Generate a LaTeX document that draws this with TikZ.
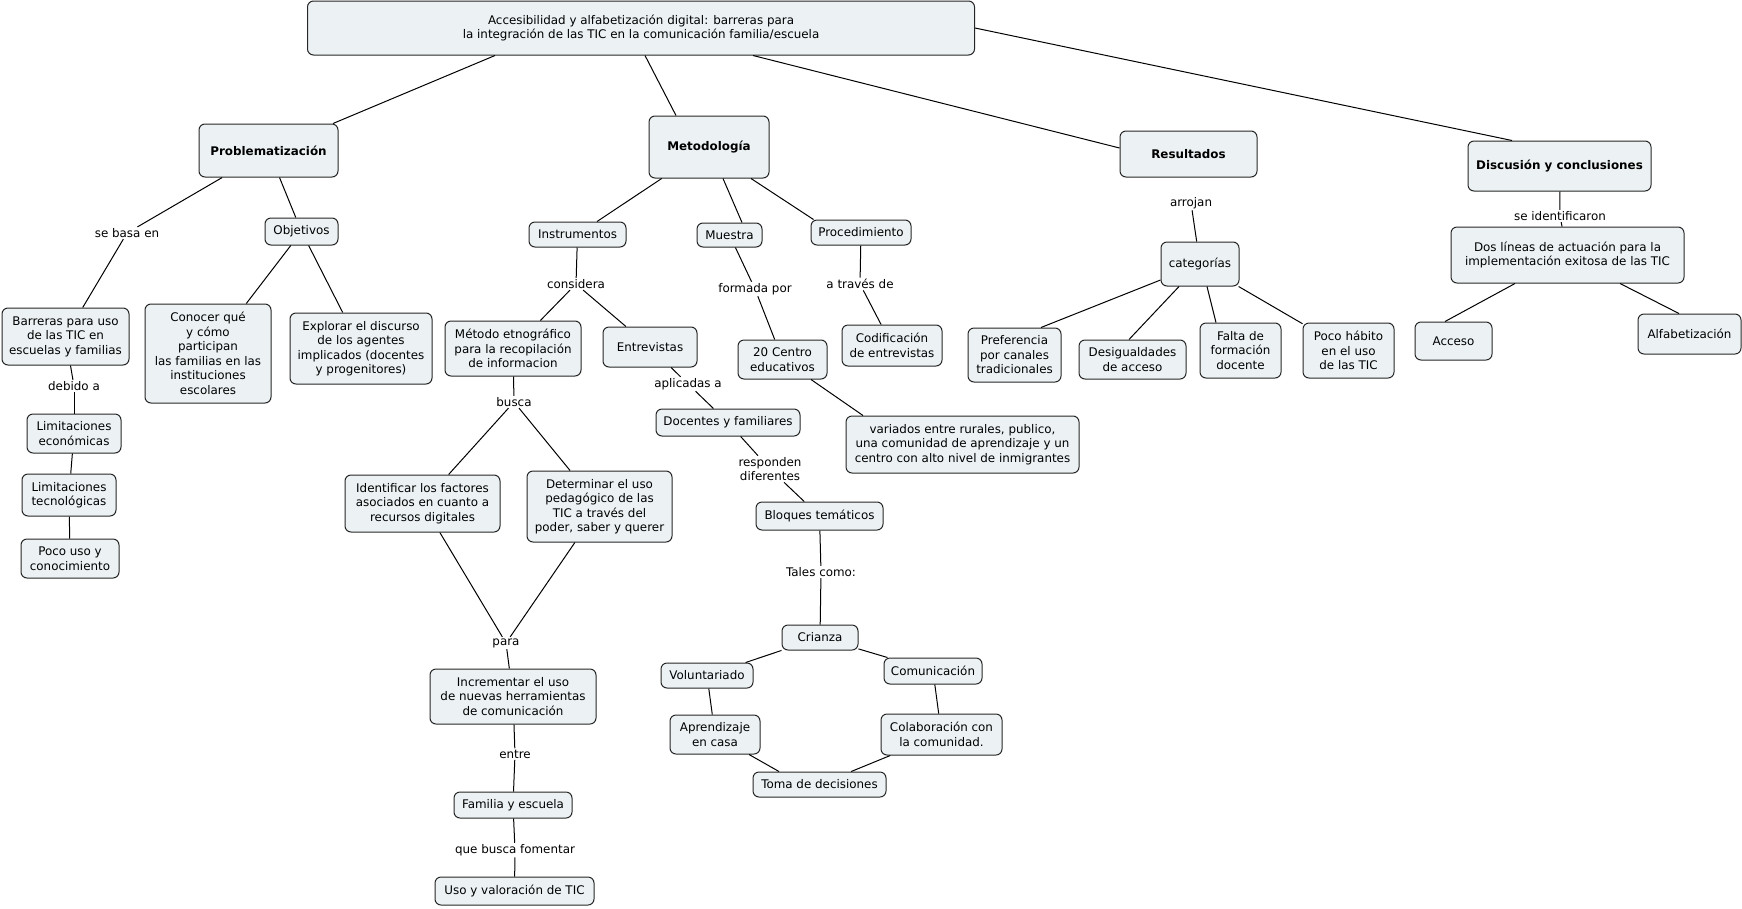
\documentclass[tikz,border=0pt]{standalone}
\usepackage{fontspec}
\setmainfont{DejaVu Sans}
\definecolor{fondo}{RGB}{236,242,244}
\begin{document}
\begin{tikzpicture}[x=1pt,y=-1pt,line width=1pt,
        every node/.style={font=\fontsize{11.9}{14.5}\selectfont},
        concepto/.style={draw=black!85,fill=fondo,rounded corners=6pt,align=center,inner sep=1pt},
        principal/.style={concepto,font=\fontsize{11.9}{14.5}\selectfont\bfseries},
        enlace/.style={align=center,inner sep=1pt}]
        \fill[white] (0,0) rectangle (1742,908);
        \useasboundingbox (0,0) rectangle (1742,908);
        \node[concepto,minimum width=667pt,minimum height=54pt] (titulo) at (641,28) {Accesibilidad y alfabetización digital: barreras para\\la integración de las TIC en la comunicación familia/escuela};
        \node[principal,minimum width=139pt,minimum height=53pt] (problema) at (268.5,150.5) {Problematización};
        \node[principal,minimum width=120pt,minimum height=62pt] (metodologia) at (709,147) {Metodología};
        \node[principal,minimum width=137pt,minimum height=46pt] (resultados) at (1188.5,154) {Resultados};
        \node[principal,minimum width=183pt,minimum height=50pt] (discusion) at (1559.5,166) {Discusión y conclusiones};
        \node[concepto,minimum width=73pt,minimum height=27pt] (objetivos) at (301.5,231.5) {Objetivos};
        \node[concepto,minimum width=97pt,minimum height=25pt] (instrumentos) at (577.5,234.5) {Instrumentos};
        \node[concepto,minimum width=65pt,minimum height=24pt] (muestra) at (729.5,235) {Muestra};
        \node[concepto,minimum width=100pt,minimum height=25pt] (procedimiento) at (861,232.5) {Procedimiento};
        \node[concepto,minimum width=78pt,minimum height=44pt] (categorias) at (1200,264) {categorías};
        \node[concepto,minimum width=233pt,minimum height=56pt] (doslineas) at (1567.5,255) {Dos líneas de actuación para la\\implementación exitosa de las TIC};
        \node[concepto,minimum width=127pt,minimum height=57pt] (barreras) at (65.5,336.5) {Barreras para uso\\de las TIC en\\escuelas y familias};
        \node[concepto,minimum width=126pt,minimum height=99pt] (conocer) at (208,353.5) {Conocer qué\\y cómo\\participan\\las familias en las\\instituciones\\escolares};
        \node[concepto,minimum width=142pt,minimum height=71pt] (explorar) at (361,348.5) {Explorar el discurso\\de los agentes\\implicados (docentes\\y progenitores)};
        \node[concepto,minimum width=136pt,minimum height=55pt] (metodo) at (513,348.5) {Método etnográfico\\para la recopilación\\de informacion};
        \node[concepto,minimum width=94pt,minimum height=40pt] (entrevistas) at (650,347) {Entrevistas};
        \node[concepto,minimum width=89pt,minimum height=39pt] (centros) at (782.5,359.5) {20 Centro\\educativos};
        \node[concepto,minimum width=100pt,minimum height=41pt] (codificacion) at (892,345.5) {Codificación\\de entrevistas};
        \node[concepto,minimum width=93pt,minimum height=54pt] (preferencia) at (1014.5,355) {Preferencia\\por canales\\tradicionales};
        \node[concepto,minimum width=107pt,minimum height=39pt] (desigualdades) at (1132.5,359.5) {Desigualdades\\de acceso};
        \node[concepto,minimum width=81pt,minimum height=55pt] (falta) at (1240.5,350.5) {Falta de\\formación\\docente};
        \node[concepto,minimum width=91pt,minimum height=55pt] (habito) at (1348.5,350.5) {Poco hábito\\en el uso\\de las TIC};
        \node[concepto,minimum width=77pt,minimum height=38pt] (acceso) at (1453.5,341) {Acceso};
        \node[concepto,minimum width=103pt,minimum height=40pt] (alfab) at (1689.5,334) {Alfabetización};
        \node[concepto,minimum width=94pt,minimum height=39pt] (limeco) at (74,433.5) {Limitaciones\\económicas};
        \node[concepto,minimum width=144pt,minimum height=27pt] (docentes) at (728,422.5) {Docentes y familiares};
        \node[concepto,minimum width=233pt,minimum height=57pt] (variados) at (962.5,444.5) {variados entre rurales, publico,\\una comunidad de aprendizaje y un\\centro con alto nivel de inmigrantes};
        \node[concepto,minimum width=94pt,minimum height=42pt] (limtec) at (69,495) {Limitaciones\\tecnológicas};
        \node[concepto,minimum width=98pt,minimum height=39pt] (pocouso) at (70,558.5) {Poco uso y\\conocimiento};
        \node[concepto,minimum width=155pt,minimum height=57pt] (identificar) at (422.5,503.5) {Identificar los factores\\asociados en cuanto a\\recursos digitales};
        \node[concepto,minimum width=145pt,minimum height=71pt] (determinar) at (599.5,506.5) {Determinar el uso\\pedagógico de las\\TIC a través del\\poder, saber y querer};
        \node[concepto,minimum width=127pt,minimum height=28pt] (bloques) at (819.5,516) {Bloques temáticos};
        \node[concepto,minimum width=76pt,minimum height=25pt] (crianza) at (820,637.5) {Crianza};
        \node[concepto,minimum width=92pt,minimum height=25pt] (voluntariado) at (707,675.5) {Voluntariado};
        \node[concepto,minimum width=98pt,minimum height=26pt] (comunicacion) at (933,671) {Comunicación};
        \node[concepto,minimum width=166pt,minimum height=55pt] (incrementar) at (513,696.5) {Incrementar el uso\\de nuevas herramientas\\de comunicación};
        \node[concepto,minimum width=90pt,minimum height=39pt] (aprendizaje) at (715,734.5) {Aprendizaje\\en casa};
        \node[concepto,minimum width=121pt,minimum height=41pt] (colaboracion) at (941.5,734.5) {Colaboración con\\la comunidad.};
        \node[concepto,minimum width=133pt,minimum height=25pt] (toma) at (819.5,784.5) {Toma de decisiones};
        \node[concepto,minimum width=118pt,minimum height=26pt] (familia) at (513,805) {Familia y escuela};
        \node[concepto,minimum width=159pt,minimum height=28pt] (usotic) at (514.5,891) {Uso y valoración de TIC};
        \node[enlace] (sebasa) at (127,233) {se basa en};
        \node[enlace] (debido) at (74,386) {debido a};
        \node[enlace] (considera) at (576,284) {considera};
        \node[enlace] (formada) at (755,289) {formada por};
        \node[enlace] (atraves) at (860,284) {a través de};
        \node[enlace] (busca) at (514,402) {busca};
        \node[enlace] (aplicadas) at (688,384) {aplicadas a};
        \node[enlace] (responden) at (770,469) {responden\\diferentes};
        \node[enlace] (tales) at (821,572) {Tales como:};
        \node[enlace] (para) at (506,643) {para};
        \node[enlace] (entre) at (515,754) {entre};
        \node[enlace] (quebusca) at (515,850) {que busca fomentar};
        \node[enlace] (arrojan) at (1191,203) {arrojan};
        \node[enlace] (seident) at (1560,216) {se identificaron};
        \draw ([shift={(-146,0)}]titulo.south) -- ([shift={(64.5,0)}]problema.north);
        \draw ([shift={(4,0)}]titulo.south) -- ([shift={(-33,0)}]metodologia.north);
        \draw ([shift={(112,0)}]titulo.south) -- ([shift={(0,-6)}]resultados.west);
        \draw (titulo.east) -- ([shift={(-47.5,0)}]discusion.north);
        \draw (problema) -- (sebasa);
        \draw (sebasa) -- (barreras);
        \draw (problema) -- (objetivos);
        \draw (objetivos) -- (conocer);
        \draw (objetivos) -- (explorar);
        \draw (barreras) -- (debido);
        \draw (debido) -- (limeco);
        \draw (limeco) -- (limtec);
        \draw (limtec) -- (pocouso);
        \draw (metodologia) -- (instrumentos);
        \draw ([shift={(14,0)}]metodologia.south) -- ([shift={(12.5,0)}]muestra.north);
        \draw ([shift={(42,0)}]metodologia.south) -- ([shift={(3,0)}]procedimiento.north west);
        \draw (instrumentos) -- (considera);
        \draw (considera) -- (metodo);
        \draw (considera) -- (entrevistas);
        \draw (muestra) -- (formada);
        \draw (formada) -- (centros);
        \draw (procedimiento) -- (atraves);
        \draw (atraves) -- (codificacion);
        \draw (metodo) -- (busca);
        \draw (busca) -- (identificar);
        \draw (busca) -- (determinar);
        \draw (entrevistas) -- (aplicadas);
        \draw (aplicadas) -- (docentes);
        \draw ([shift={(28.5,0)}]centros.south) -- ([shift={(-99.5,0)}]variados.north);
        \draw (docentes) -- (responden);
        \draw (responden) -- (bloques);
        \draw (identificar) -- (para);
        \draw (determinar) -- (para);
        \draw (para) -- (incrementar);
        \draw (incrementar) -- (entre);
        \draw (entre) -- (familia);
        \draw (familia) -- (quebusca);
        \draw (quebusca) -- (usotic);
        \draw (bloques) -- (tales);
        \draw (tales) -- (crianza);
        \draw (crianza) -- (voluntariado);
        \draw (crianza) -- (comunicacion);
        \draw (voluntariado) -- (aprendizaje);
        \draw (comunicacion) -- (colaboracion);
        \draw ([shift={(34,0)}]aprendizaje.south) -- ([shift={(-40.5,0)}]toma.north);
        \draw (colaboracion) -- (toma);
        \draw (arrojan) -- (categorias);
        \draw (discusion) -- (seident);
        \draw (seident) -- (doslineas);
        \draw ([shift={(0,16)}]categorias.west) -- ([shift={(26.5,0)}]preferencia.north);
        \draw ([shift={(-21,0)}]categorias.south) -- ([shift={(-3.5,0)}]desigualdades.north);
        \draw ([shift={(7,0)}]categorias.south) -- ([shift={(-24.5,0)}]falta.north);
        \draw (categorias) -- (habito);
        \draw ([shift={(-52.5,0)}]doslineas.south) -- ([shift={(-8.5,0)}]acceso.north);
        \draw ([shift={(52.5,0)}]doslineas.south) -- ([shift={(-10.5,0)}]alfab.north);
\end{tikzpicture}
\end{document}
